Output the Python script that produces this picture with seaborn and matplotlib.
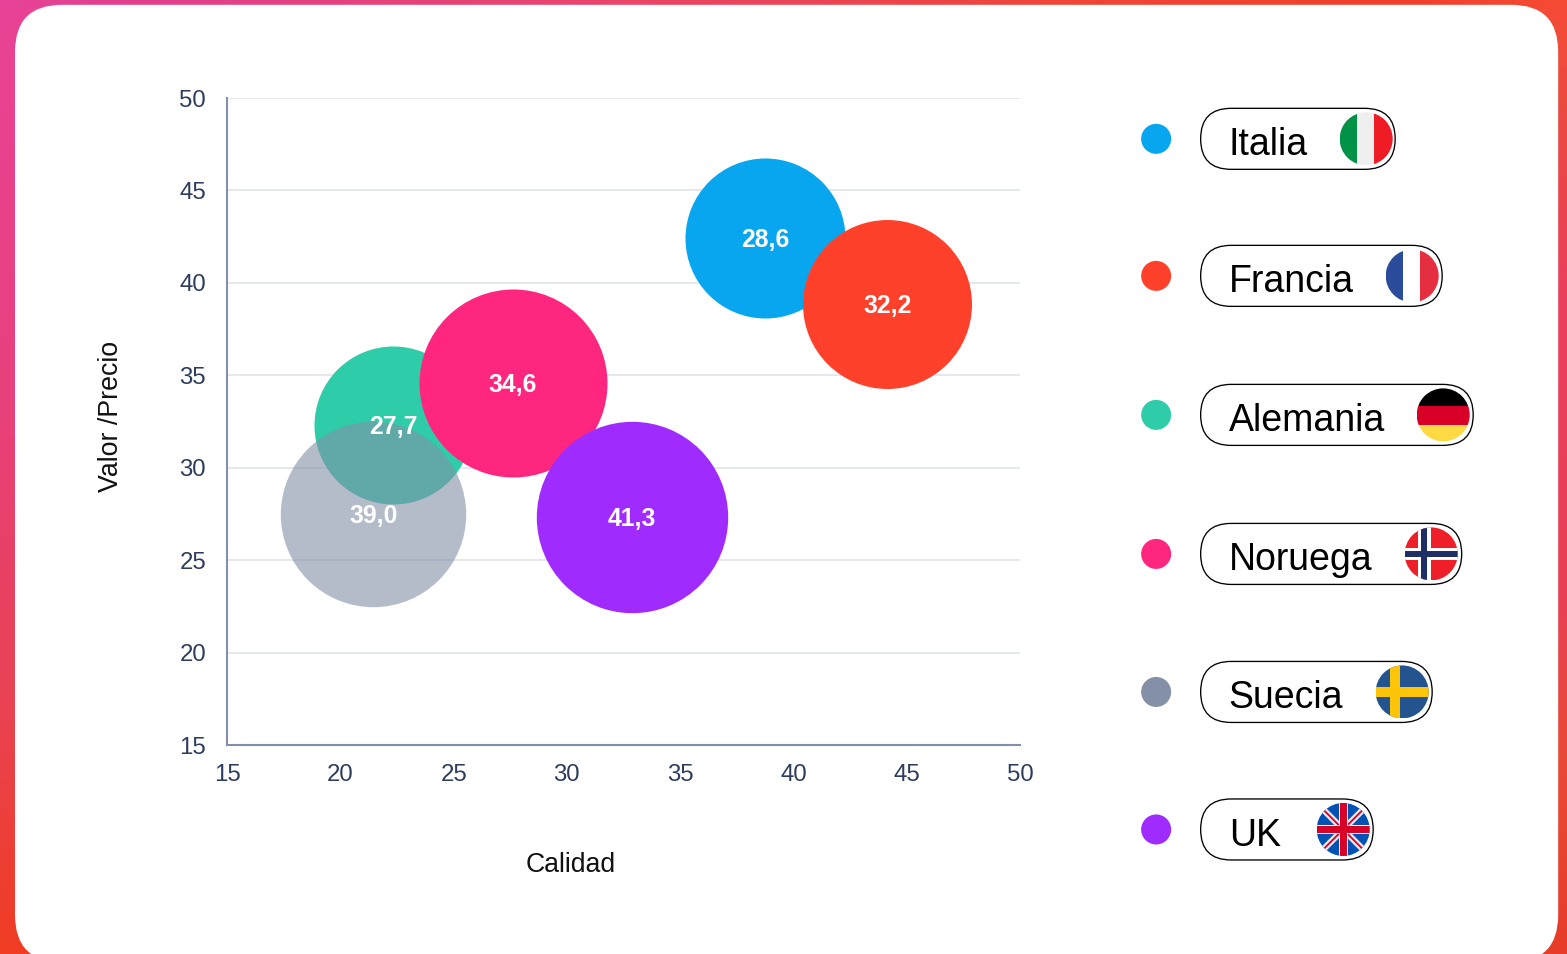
import numpy as np
import pandas as pd
import matplotlib
matplotlib.use("Agg")
import matplotlib.pyplot as plt
from matplotlib.patches import FancyBboxPatch, Circle, Rectangle
import seaborn as sns

# ---- data ----
paises = ["Italia", "Francia", "Alemania", "Noruega", "Suecia", "UK"]
calidad = [38.73, 44.14, 22.32, 27.60, 21.46, 32.88]
valor = [42.43, 38.86, 32.31, 34.58, 27.50, 27.33]
etiqueta = [28.6, 32.2, 27.7, 34.6, 39.0, 41.3]
radio_px = [80, 84.5, 79, 94, 92.7, 95.7]
colores = ["#08a6ef", "#ff412c", "#2fcca9", "#ff2680", "#8390a8", "#a02bff"]
opacidad = [1, 1, 1, 1, 0.6, 1]
ticks = [15, 20, 25, 30, 35, 40, 45, 50]

df = pd.DataFrame({"pais": paises, "calidad": calidad, "valor": valor})

sns.set_theme(style="white")
plt.rcParams["font.family"] = ["Liberation Sans", "DejaVu Sans"]

W, H = 1567, 954
fig = plt.figure(figsize=((W + 0.2) / 100, (H + 0.2) / 100), dpi=100)

# ---- page layer in pixel coordinates ----
page = fig.add_axes([0, 0, 1, 1], zorder=0)
page.set_xlim(0, W)
page.set_ylim(H, 0)
page.axis("off")


def hexrgb(h):
    return np.array(matplotlib.colors.to_rgb(h))


def ramp(pos, stops, cols):
    c = np.array([hexrgb(k) for k in cols])
    return np.stack([np.interp(pos, stops, c[:, i]) for i in range(3)], axis=-1)


ys = np.arange(H)
xs = np.arange(W)
left = ramp(ys, [0, 400, 700, 954], ["#e84398", "#e8407c", "#e94354", "#f03c22"])
right = ramp(ys, [0, 100, 300, 600, 750, 954],
             ["#f64b35", "#ec4a3f", "#ea3f5c", "#e84054", "#ea4a38", "#e63c28"])
t = (xs / (W - 1))[None, :, None]
grad = left[:, None, :] * (1 - t) + right[:, None, :] * t
grad[:8] = ramp(xs, [0, 100, 600, 1100, 1400, 1567],
                ["#e84398", "#e0418f", "#e8456c", "#ee4535", "#ee3f2c", "#f64b35"])[None, :, :]
page.imshow(grad, extent=(0, W, H, 0), aspect="auto", interpolation="bilinear", zorder=0)

page.add_patch(FancyBboxPatch((15, 5), 1543, 957, boxstyle="round,pad=0,rounding_size=47",
                              fc="white", ec="none", zorder=1))

# ---- legend ----
pill_der = [1395, 1442, 1473, 1461.5, 1432, 1373]
fila_y = [139, 276, 415, 554, 692, 829.5]
flag_cx = [1366, 1412, 1443, 1431, 1402, 1343]


def flag(name, cx, cy, r=26.5):
    clip = Circle((cx, cy), r, transform=page.transData)

    def rect(x0, y0, x1, y1, c):
        p = Rectangle((x0, y0), x1 - x0, y1 - y0, fc=c, ec="none", zorder=4)
        page.add_patch(p)
        p.set_clip_path(clip)

    def line(x0, y0, x1, y1, c, lw):
        l, = page.plot([x0, x1], [y0, y1], color=c, lw=lw, zorder=4, solid_capstyle="butt")
        l.set_clip_path(clip)

    xl, xr, yt, yb = cx - r, cx + r, cy - r, cy + r
    if name == "Italia":
        rect(xl, yt, cx - 9, yb, "#009246")
        rect(cx - 9, yt, cx + 8, yb, "#efefef")
        rect(cx + 8, yt, xr, yb, "#ee1c25")
    elif name == "Francia":
        rect(xl, yt, cx - 9, yb, "#2b4b9b")
        rect(cx - 9, yt, cx + 8, yb, "#ffffff")
        rect(cx + 8, yt, xr, yb, "#e52e3f")
    elif name == "Alemania":
        rect(xl, yt, xr, cy - 9, "#000000")
        rect(xl, cy - 9, xr, cy + 10, "#d80027")
        rect(xl, cy + 10, xr, yb, "#ffda44")
    elif name == "Noruega":
        rect(xl, yt, xr, yb, "#ef1f2a")
        rect(cx - 13.5, yt, cx - 0.5, yb, "#ffffff")
        rect(xl, cy - 6, xr, cy + 6, "#ffffff")
        rect(cx - 10, yt, cx - 4, yb, "#1f2f66")
        rect(xl, cy - 3, xr, cy + 3, "#1f2f66")
    elif name == "Suecia":
        rect(xl, yt, xr, yb, "#23548f")
        rect(cx - 12.5, yt, cx - 2.5, yb, "#fcc507")
        rect(xl, cy - 5, xr, cy + 5.5, "#fcc507")
    else:
        rect(xl, yt, xr, yb, "#0052b4")
        for sx in (-1, 1):
            line(cx - sx * r, yt, cx + sx * r, yb, "#e8e8ee", 4.5)
            line(cx - sx * r, yt, cx + sx * r, yb, "#d80027", 1.3)
        rect(cx - 4.6, yt, cx + 4.6, yb, "#f0f0f0")
        rect(xl, cy - 4.6, xr, cy + 4.6, "#f0f0f0")
        rect(cx - 3.4, yt, cx + 3.4, yb, "#d80027")
        rect(xl, cy - 3.4, xr, cy + 3.4, "#d80027")


for nombre, color, der, fy, fx in zip(paises, colores, pill_der, fila_y, flag_cx):
    page.add_patch(Circle((1156, fy), 15, fc=color, ec="none", zorder=3))
    page.add_patch(FancyBboxPatch((1200.5, fy - 30.5), der - 1200.5, 61,
                                  boxstyle="round,pad=0,rounding_size=30.5",
                                  fc="white", ec="black", lw=0.95, zorder=2))
    page.text(1228.5, fy + 16.3, nombre, fontsize=27, color="black", va="baseline", ha="left", zorder=3)
    flag(nombre, fx, fy, 26.5)

# ---- bubble chart ----
ax = fig.add_axes([227 / W, (H - 745) / H, 793 / W, 647 / H], zorder=1)
ax.patch.set_visible(False)
ax.set_xlim(15, 50)
ax.set_ylim(15, 50)

for i, nombre in enumerate(paises):
    sns.scatterplot(data=df[df["pais"] == nombre], x="calidad", y="valor", ax=ax,
                    color=colores[i], alpha=opacidad[i], linewidth=0,
                    s=(2 * radio_px[i] * 0.72) ** 2, zorder=3 + i * 0.1, clip_on=False,
                    legend=False)
    ax.annotate(f"{etiqueta[i]:.1f}".replace(".", ","), (calidad[i], valor[i]),
                xytext=(0, -1.3), textcoords="offset points", color="white",
                fontsize=17.8, fontweight="bold", ha="center", va="center", zorder=5)

ax.set_xticks(ticks)
ax.set_yticks(ticks)
ax.grid(False)
ax.yaxis.grid(True, color="#e6e8ee", lw=1.5, zorder=1)
ax.set_axisbelow(True)
ax.tick_params(axis="both", length=0, labelsize=17.3, labelcolor="#2f3d5c")
ax.tick_params(axis="x", pad=13.7)
ax.tick_params(axis="y", pad=15)
for s in ("top", "right"):
    ax.spines[s].set_visible(False)
for s in ("left", "bottom"):
    ax.spines[s].set_color("#8390a8")
    ax.spines[s].set_linewidth(1.5)
    ax.spines[s].set_zorder(2)

ax.set_xlabel("")
ax.set_ylabel("")
page.text(570.5, 865, "Calidad", fontsize=19.2, color="#111111", ha="center", va="center", zorder=3)
page.text(111, 416, "Valor /Precio", fontsize=19.3, color="#111111", rotation=90,
          ha="center", va="center", zorder=3)

fig.savefig("out.png", dpi=100)
